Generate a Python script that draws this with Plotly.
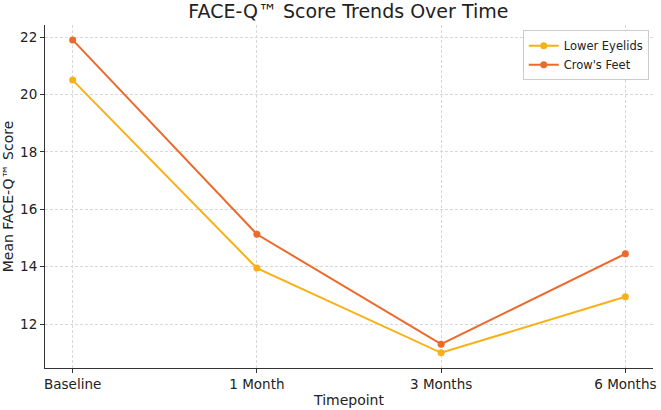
import plotly.graph_objects as go

timepoints = ["Baseline", "1 Month", "3 Months", "6 Months"]
lower_eyelids = [20.5, 13.95, 11.0, 12.95]
crows_feet = [21.9, 15.13, 11.3, 14.45]
y_ticks = [12, 14, 16, 18, 20, 22]

fig = go.Figure()
fig.add_trace(go.Scatter(x=[0, 1, 2, 3], y=lower_eyelids, mode="lines+markers",
                         name="Lower Eyelids", line=dict(color="#F9B016", width=2),
                         marker=dict(size=7, color="#F9B016")))
fig.add_trace(go.Scatter(x=[0, 1, 2, 3], y=crows_feet, mode="lines+markers",
                         name="Crow's Feet", line=dict(color="#EC6A2C", width=2),
                         marker=dict(size=7, color="#EC6A2C")))

font = "DejaVu Sans"
fig.update_layout(
    width=661, height=410,
    margin=dict(l=45, r=8, t=25, b=42),
    paper_bgcolor="white", plot_bgcolor="white",
    font=dict(family=font, size=12, color="#222"),
    title=dict(text="FACE-Q™ Score Trends Over Time", x=0.527, xanchor="center",
               y=0.972, yanchor="middle", font=dict(size=19, family=font, color="#222")),
    legend=dict(x=0.993, y=0.985, xanchor="right", yanchor="top",
                bgcolor="rgba(255,255,255,0.85)", bordercolor="#ccc", borderwidth=1,
                font=dict(size=11.5, family=font), tracegroupgap=0),
    showlegend=True,
)
fig.update_xaxes(
    range=[-0.15, 3.15], tickmode="array", tickvals=[0, 1, 2, 3], ticktext=timepoints,
    showline=True, linecolor="#333", linewidth=1, ticks="outside", ticklen=4, tickcolor="#333",
    showgrid=True, gridcolor="#d8d8d8", griddash="3px,2px", gridwidth=1, zeroline=False,
    title=dict(text="Timepoint", font=dict(size=14, family=font), standoff=3),
    tickfont=dict(size=13.5, family=font), automargin=False,
)
fig.update_yaxes(
    range=[10.47, 22.42], tickmode="array", tickvals=y_ticks,
    showline=True, linecolor="#333", linewidth=1, ticks="outside", ticklen=4, tickcolor="#333",
    showgrid=True, gridcolor="#d8d8d8", griddash="3px,2px", gridwidth=1, zeroline=False,
    title=dict(text="Mean FACE-Q™ Score", font=dict(size=14, family=font), standoff=5),
    tickfont=dict(size=13.5, family=font), automargin=False,
)
fig.write_html("out.html")
